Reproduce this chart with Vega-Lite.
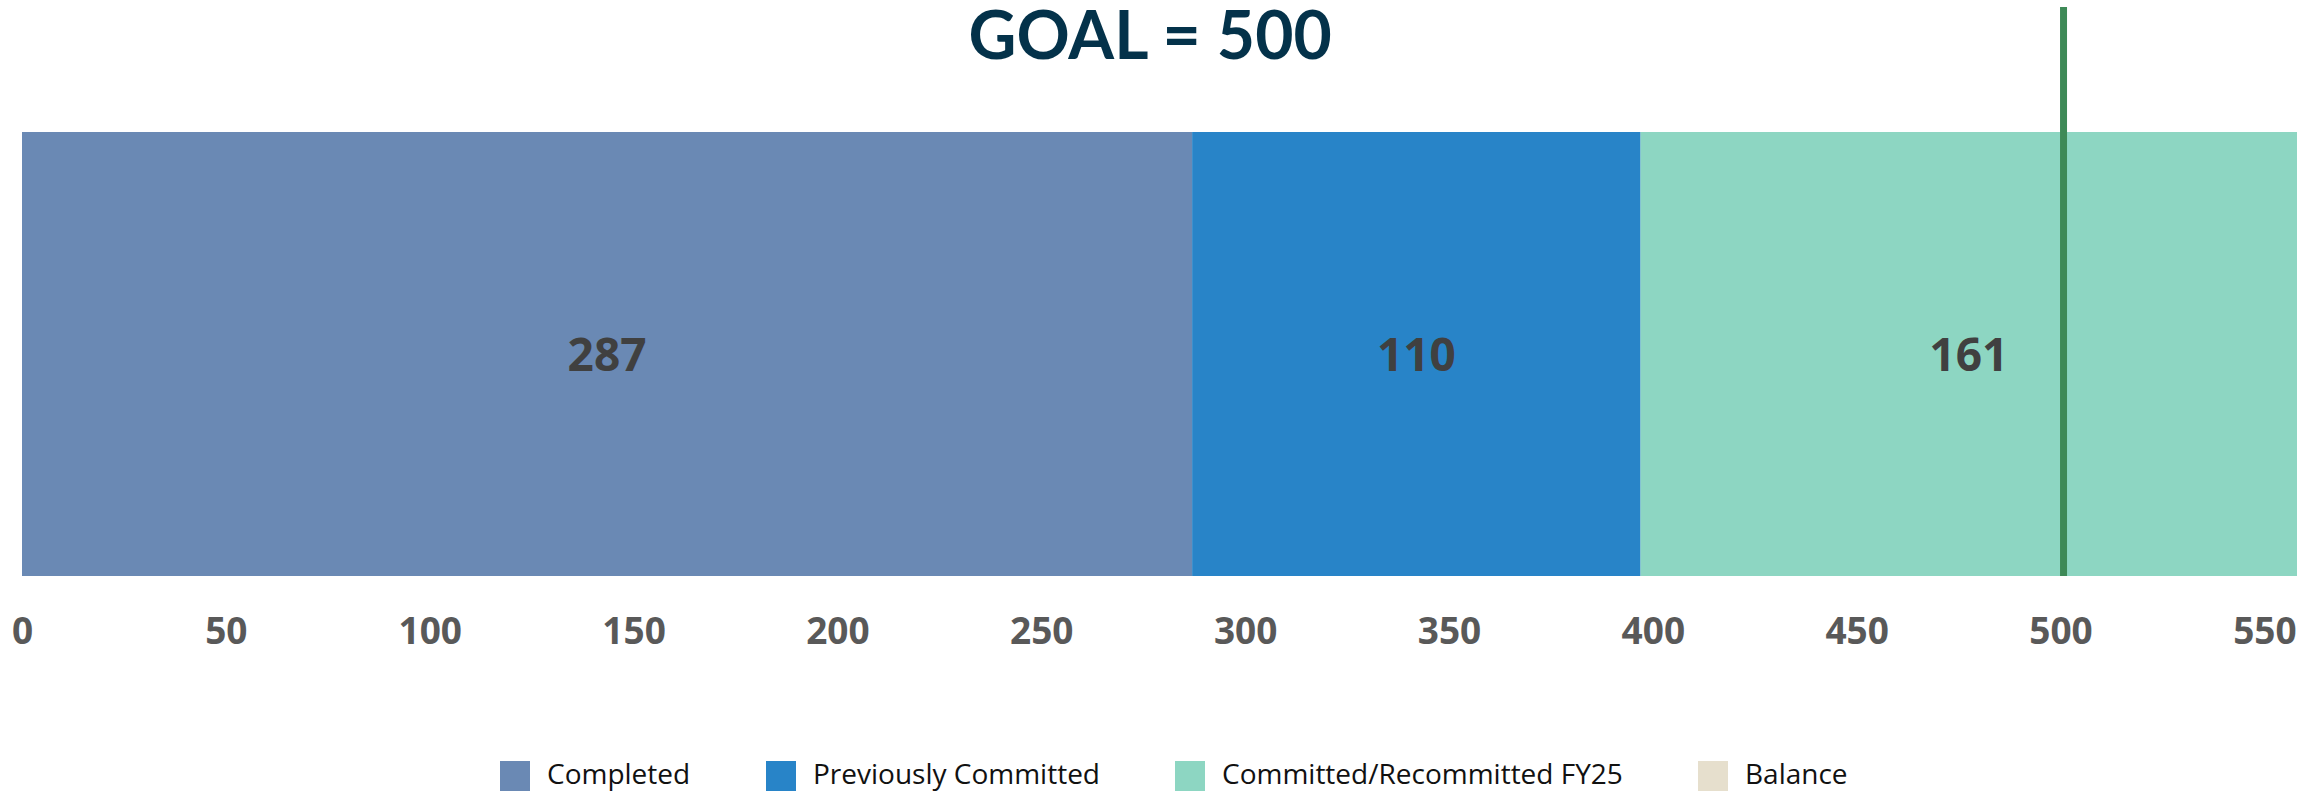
{
  "$schema": "https://vega.github.io/schema/vega-lite/v6.json",
  "width": 2275,
  "height": 569,
  "autosize": {"type": "none"},
  "padding": {"left": 22, "top": 7, "right": 26, "bottom": 219},
  "background": "white",
  "config": {
    "view": {"stroke": null},
    "axisX": {
      "title": null,
      "values": [0, 50, 100, 150, 200, 250, 300, 350, 400, 450, 500, 550],
      "grid": false,
      "ticks": false,
      "tickSize": 0,
      "domain": false,
      "labelPadding": 67,
      "labelBaseline": "alphabetic",
      "labelFlush": false,
      "labelOverlap": false,
      "labelBound": false,
      "labelFont": "Open Sans",
      "labelFontWeight": "bold",
      "labelFontSize": 37,
      "labelColor": "#595959"
    }
  },
  "data": {
    "values": [
      {"category": "Completed", "value": 287, "seq": 1},
      {"category": "Previously Committed", "value": 110, "seq": 2},
      {"category": "Committed/Recommitted FY25", "value": 161, "seq": 3}
    ]
  },
  "layer": [
    {
      "transform": [
        {"stack": "value", "groupby": [], "sort": [{"field": "seq", "order": "ascending"}], "as": ["v0", "v1"]}
      ],
      "mark": {"type": "bar"},
      "encoding": {
        "x": {
          "field": "v0",
          "type": "quantitative",
          "title": null,
          "scale": {"domain": [0, 558], "nice": false, "zero": true},
          "axis": {
            "title": null,
            "values": [0, 50, 100, 150, 200, 250, 300, 350, 400, 450, 500, 550],
            "grid": false,
            "ticks": false,
            "tickSize": 0,
            "domain": false,
            "labelPadding": 67,
            "labelBaseline": "alphabetic",
            "labelFlush": false,
            "labelOverlap": false,
            "labelBound": false,
            "labelFont": "Open Sans",
            "labelFontWeight": "bold",
            "labelFontSize": 37,
            "labelColor": "#595959"
          }
        },
        "x2": {"field": "v1"},
        "y": {"datum": 0, "type": "quantitative", "title": null, "scale": {"domain": [0, 1], "nice": false}, "axis": null},
        "y2": {"datum": 0.7803},
        "color": {
          "field": "category",
          "type": "nominal",
          "scale": {
            "domain": ["Completed", "Previously Committed", "Committed/Recommitted FY25", "Balance"],
            "range": ["#6A89B4", "#2884C8", "#8DD6C2", "#E6DFCD"]
          },
          "legend": {
            "title": null,
            "orient": "none",
            "direction": "horizontal",
            "legendX": 478,
            "legendY": 754,
            "symbolType": "square",
            "symbolSize": 900,
            "symbolStrokeWidth": 0,
            "symbolOpacity": 1,
            "labelOffset": 17,
            "columnPadding": 75,
            "labelFont": "Open Sans",
            "labelFontSize": 28,
            "labelColor": "#111111",
            "labelLimit": 1000
          }
        }
      }
    },
    {
      "mark": {"type": "text", "font": "Open Sans", "fontWeight": "bold", "fontSize": 46, "color": "#404040", "baseline": "middle", "align": "center", "dy": 65},
      "encoding": {
        "x": {
          "field": "value",
          "type": "quantitative",
          "title": null,
          "stack": "zero",
          "bandPosition": 0.5,
          "axis": {
            "title": null,
            "values": [0, 50, 100, 150, 200, 250, 300, 350, 400, 450, 500, 550],
            "grid": false,
            "ticks": false,
            "tickSize": 0,
            "domain": false,
            "labelPadding": 67,
            "labelBaseline": "alphabetic",
            "labelFlush": false,
            "labelOverlap": false,
            "labelBound": false,
            "labelFont": "Open Sans",
            "labelFontWeight": "bold",
            "labelFontSize": 37,
            "labelColor": "#595959"
          }
        },
        "detail": {"field": "category", "type": "nominal"},
        "order": {"field": "seq", "type": "quantitative"},
        "text": {"field": "value", "type": "quantitative"}
      }
    },
    {
      "data": {"values": [{"goal": 500}]},
      "mark": {"type": "rule", "color": "#3E8A57", "strokeWidth": 7, "xOffset": 3},
      "encoding": {
        "x": {
          "field": "goal",
          "type": "quantitative",
          "title": null,
          "axis": {
            "title": null,
            "values": [0, 50, 100, 150, 200, 250, 300, 350, 400, 450, 500, 550],
            "grid": false,
            "ticks": false,
            "tickSize": 0,
            "domain": false,
            "labelPadding": 67,
            "labelBaseline": "alphabetic",
            "labelFlush": false,
            "labelOverlap": false,
            "labelBound": false,
            "labelFont": "Open Sans",
            "labelFontWeight": "bold",
            "labelFontSize": 37,
            "labelColor": "#595959"
          }
        },
        "y": {"datum": 0, "type": "quantitative", "title": null, "axis": null},
        "y2": {"datum": 1}
      }
    },
    {
      "data": {"values": [{"label": "GOAL = 500"}]},
      "mark": {"type": "text", "font": "Lato", "fontWeight": "bold", "fontSize": 66, "color": "#04324A", "align": "center", "baseline": "alphabetic"},
      "encoding": {
        "x": {
          "datum": 276.7,
          "type": "quantitative",
          "title": null,
          "axis": {
            "title": null,
            "values": [0, 50, 100, 150, 200, 250, 300, 350, 400, 450, 500, 550],
            "grid": false,
            "ticks": false,
            "tickSize": 0,
            "domain": false,
            "labelPadding": 67,
            "labelBaseline": "alphabetic",
            "labelFlush": false,
            "labelOverlap": false,
            "labelBound": false,
            "labelFont": "Open Sans",
            "labelFontWeight": "bold",
            "labelFontSize": 37,
            "labelColor": "#595959"
          }
        },
        "y": {"datum": 0.9086, "type": "quantitative", "title": null, "axis": null},
        "text": {"field": "label", "type": "nominal"}
      }
    }
  ]
}
